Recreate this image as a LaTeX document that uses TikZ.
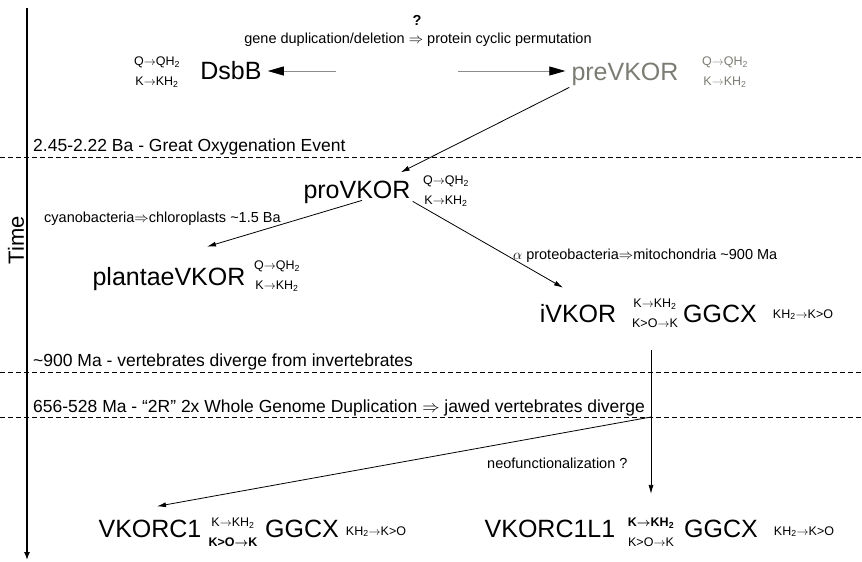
\documentclass[tikz,border=0pt]{standalone}
\usepackage{amsmath}
\usepackage{fontspec}
\setmainfont{Liberation Sans}
\usetikzlibrary{arrows.meta}

\definecolor{pregray}{RGB}{125,124,116}
\newcommand{\rarr}{$\rightarrow$}
\newcommand{\qkred}{Q\rarr QH\textsubscript{2}\\K\rarr KH\textsubscript{2}}
\newcommand{\kred}{KH\textsubscript{2}\rarr K>O}

\tikzset{
  enzyme/.style={font=\fontsize{25}{28}\selectfont, inner sep=1pt, anchor=base},
  react/.style={font=\fontsize{12.5}{20}\selectfont, align=center, inner sep=0.5pt},
  era/.style={font=\fontsize{17.5}{20}\selectfont, anchor=base west, inner sep=0pt},
  note/.style={font=\fontsize{14.5}{17}\selectfont, anchor=base west, inner sep=0pt},
  arr/.style={-{Latex[length=9pt,width=5pt]}, line width=0.8pt},
  bigarr/.style={-{Triangle[length=16pt,width=9pt,color=black]}, line width=0.8pt, black!45},
  eraline/.style={dash pattern=on 5pt off 3pt, line width=0.8pt}
}

\begin{document}
\begin{tikzpicture}[x=1pt, y=-1pt]
  \useasboundingbox (0,0) rectangle (862,562);

  % time axis and eras
  \coordinate (ttop) at (27,8);
  \coordinate (tend) at (27,560);
  \draw[-{Latex[length=8pt,width=6pt]}, line width=1.2pt] (ttop) -- (tend);
  \node[rotate=90, font=\fontsize{22}{24}\selectfont] (time) at (16,240) {Time};

  \foreach \y in {157,372,417}
    \draw[eraline] (0,\y) -- (862,\y);

  \node[era] (goe) at (33,151) {2.45-2.22 Ba - Great Oxygenation Event};
  \node[era] (vert) at (33,366) {\textasciitilde900 Ma - vertebrates diverge from invertebrates};
  \node[era] (twor) at (33,412) {656-528 Ma - “2R” 2x Whole Genome Duplication $\Rightarrow$ jawed vertebrates diverge};

  % top row
  \node[font=\fontsize{14.5}{17}\selectfont\bfseries, inner sep=1pt] (qmark) at (417,20) {?};
  \node[note, anchor=base] (perm) at (418,43) {gene duplication/deletion $\Rightarrow$ protein cyclic permutation};

  \node[enzyme] (dsbb) at (231,79) {DsbB};
  \node[react] (dsbbrx) at (157,72) {\qkred};
  \node[enzyme, pregray] (prevkor) at (625,80) {preVKOR};
  \node[react, pregray] (prerx) at (725,72) {\qkred};

  \coordinate (dsbfrom) at (336,71);
  \coordinate (prefrom) at (458,71);
  \draw[bigarr] (dsbfrom) -- ([xshift=5pt]dsbb.east |- dsbfrom);
  \draw[bigarr] (prefrom) -- ([xshift=-5pt]prevkor.west |- prefrom);

  % proVKOR
  \node[enzyme] (provkor) at (357,198) {proVKOR};
  \node[react] (prorx) at (446,191) {\qkred};
  \draw[arr] ([shift={(-1,1)}]prevkor.south west) -- ([shift={(-11,-7)}]provkor.north east);

  \node[enzyme] (plantae) at (169,285) {plantaeVKOR};
  \node[react] (plantrx) at (277,276) {\qkred};
  \node[note] (cyano) at (44,222) {cyanobacteria$\Rightarrow$chloroplasts \textasciitilde1.5 Ba};
  \draw[arr] ([shift={(5,-4)}]provkor.south) -- ([shift={(38,-19)}]plantae.north);

  \node[enzyme] (ivkor) at (578,322) {iVKOR};
  \node[react] (ivrx) at (655,313) {K\rarr KH\textsubscript{2}\\K>O\rarr K};
  \node[enzyme] (ggcxa) at (720,322) {GGCX};
  \node[react, anchor=base] (ggrxa) at (803,318) {\kred};
  \node[note] (alpha) at (513,259) {$\alpha$ proteobacteria$\Rightarrow$mitochondria \textasciitilde900 Ma};
  \draw[arr] ([shift={(1,-3)}]provkor.south east) -- ([shift={(-15,-15)}]ivkor.north);

  % after 2R
  \node[enzyme] (vkorc1) at (150,537) {VKORC1};
  \node[react] (vk1rx) at (233,532) {K\rarr KH\textsubscript{2}\\\textbf{K>O$\boldsymbol{\rightarrow}$K}};
  \node[enzyme] (ggcxb) at (302,537) {GGCX};
  \node[react, anchor=base] (ggrxb) at (376,535) {\kred};

  \node[enzyme] (vkl1) at (550,537) {VKORC1L1};
  \node[react] (vl1rx) at (651,532) {\textbf{K$\boldsymbol{\rightarrow}$KH\textsubscript{2}}\\K>O\rarr K};
  \node[enzyme] (ggcxc) at (721,537) {GGCX};
  \node[react, anchor=base] (ggrxc) at (804,535) {\kred};

  \node[note] (neo) at (487,468) {neofunctionalization ?};

  \coordinate (wgdtop) at (651,350);
  \coordinate (wgd) at (651,417);
  \draw[arr] (wgdtop) -- ([yshift=23pt]vl1rx.north -| wgdtop);
  \draw[arr] (wgd) -- ([shift={(7,-12)}]vkorc1.north);
\end{tikzpicture}
\end{document}
